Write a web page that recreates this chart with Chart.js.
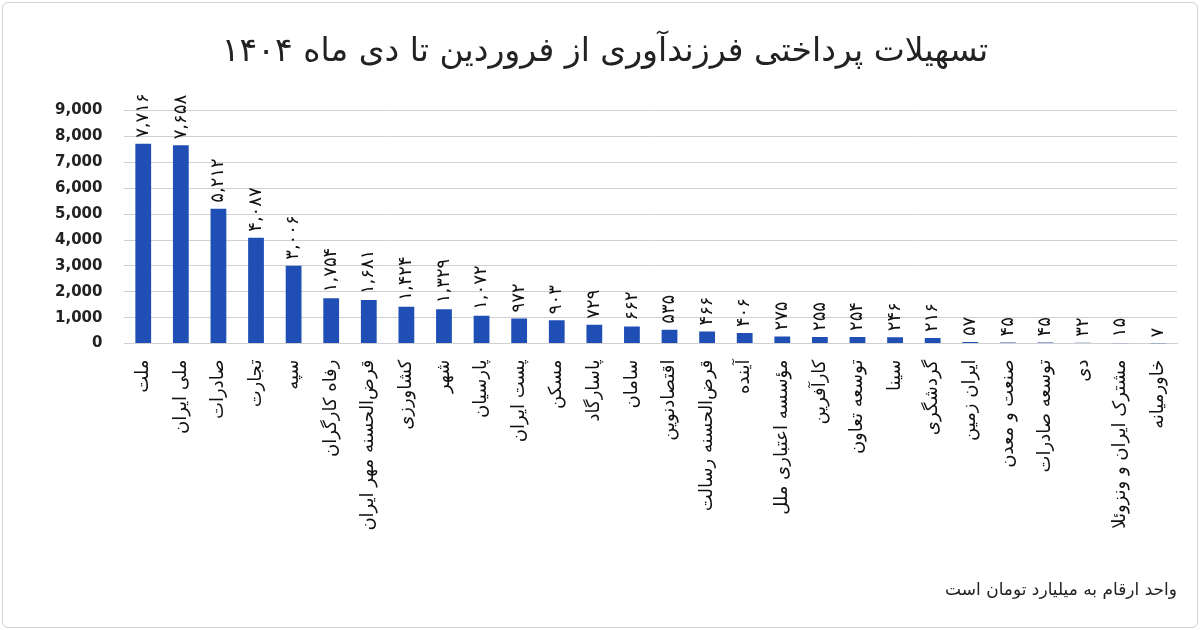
<!DOCTYPE html>
<html><head><meta charset="utf-8">
<script src="https://cdn.jsdelivr.net/npm/chart.js@4/dist/chart.umd.min.js"></script>
<style>
body{margin:0;background:#fff}
#wrap{position:absolute;left:2px;top:2px;width:1194px;height:624px;border:1px solid #d0d0d0;border-radius:6px}
</style></head><body>
<div id="wrap"><canvas id="c" width="1194" height="624"></canvas></div>
<script>
// banks, left to right
const banks = ['ملت','ملی ایران','صادرات','تجارت','سپه','رفاه کارگران','قرض‌الحسنه مهر ایران','کشاورزی','شهر','پارسیان','پست ایران','مسکن','پاسارگاد','سامان','اقتصادنوین','قرض‌الحسنه رسالت','آینده','مؤسسه اعتباری ملل','کارآفرین','توسعه تعاون','سینا','گردشگری','ایران زمین','صنعت و معدن','توسعه صادرات','دی','مشترک ایران و ونزوئلا','خاورمیانه'];
const loans = [7716,7658,5212,4087,3006,1754,1681,1424,1329,1072,972,903,729,662,535,466,406,275,255,254,246,216,57,45,45,32,15,7];
const yTicks = [0,1000,2000,3000,4000,5000,6000,7000,8000,9000];

const fa = n => n.toLocaleString('en-US').replace(/\d/g, d => '۰۱۲۳۴۵۶۷۸۹'[d]);

// value labels above bars, rotated
const valueLabels = {
  id: 'valueLabels',
  afterDatasetsDraw(chart) {
    const ctx = chart.ctx;
    const meta = chart.getDatasetMeta(0);
    ctx.save();
    ctx.font = '18px "DejaVu Sans"';
    ctx.fillStyle = '#111';
    ctx.textAlign = 'left';
    ctx.textBaseline = 'middle';
    meta.data.forEach((bar, i) => {
      ctx.save();
      ctx.translate(bar.x, bar.y - 6);
      ctx.rotate(-Math.PI / 2);
      ctx.fillText(fa(loans[i]), 0, 0);
      ctx.restore();
    });
    ctx.restore();
  }
};

new Chart(document.getElementById('c'), {
  type: 'bar',
  data: {
    labels: banks,
    datasets: [{ data: loans, backgroundColor: '#1f4fb5', barPercentage: 0.42, categoryPercentage: 1 }]
  },
  options: {
    responsive: false,
    animation: false,
    layout: { padding: { left: 30, right: 20, top: 4, bottom: 4 } },
    plugins: {
      legend: { display: false },
      tooltip: { enabled: false },
      title: { display: true, text: 'تسهیلات پرداختی فرزندآوری از فروردین تا دی ماه ۱۴۰۴', font: { family: 'DejaVu Sans', size: 33, weight: 'normal' }, color: '#222', padding: { top: 26, bottom: 38 } },
      subtitle: { display: true, position: 'bottom', align: 'end', text: 'واحد ارقام به میلیارد تومان است', font: { family: 'DejaVu Sans', size: 17 }, color: '#222', padding: { top: 42, bottom: 22 } }
    },
    scales: {
      x: {
        grid: { display: false },
        border: { color: '#d0d0d0' },
        ticks: { minRotation: 90, maxRotation: 90, autoSkip: false, padding: 8, color: '#111', font: { family: 'DejaVu Sans', size: 18 } }
      },
      y: {
        min: 0, max: 9000,
        afterBuildTicks: s => { s.ticks = yTicks.map(v => ({ value: v })); },
        grid: { color: '#d0d0d0', drawTicks: false },
        border: { display: false },
        ticks: { padding: 22, color: '#222', font: { family: 'DejaVu Sans', size: 15, weight: 'bold' }, callback: v => v.toLocaleString('en-US') }
      }
    }
  },
  plugins: [valueLabels]
});
</script>
</body></html>
